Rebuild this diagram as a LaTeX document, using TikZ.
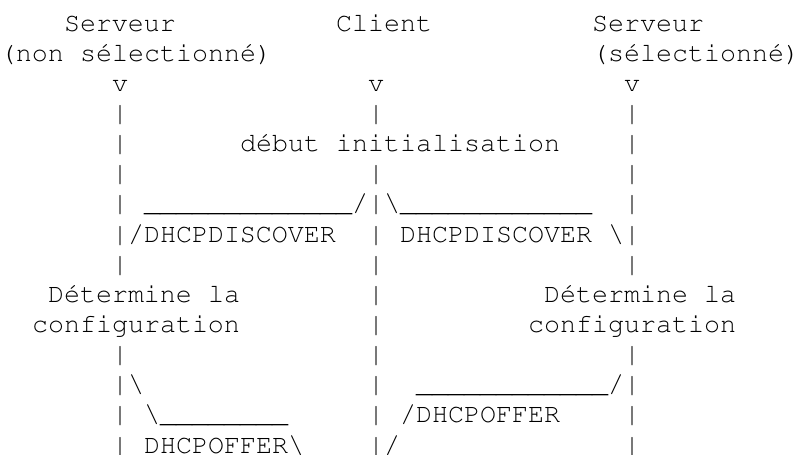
\documentclass[tikz,border=0pt]{standalone}
\usepackage[T1]{fontenc}
\usepackage{courier}
\begin{document}
\begin{tikzpicture}[
  ascii/.style={anchor=base west, inner sep=0pt, outer sep=0pt,
    text=black, font=\fontsize{20pt}{22.6pt}\selectfont\ttfamily}]
% character grid: 12pt per column, 22.61pt per row
\newcommand\cellat[4]{\node[ascii] (#1) at ({#2*12pt},{-23.25pt-#3*22.61pt}) {#4};}
\fill[white] (0,0) rectangle (597.75pt,-340.5pt);
\useasboundingbox (0,0) rectangle (597.75pt,-340.5pt);

% headings
\cellat{srvA}{4}{0}{Serveur}
\cellat{cli}{21}{0}{Client}
\cellat{srvB}{37}{0}{Serveur}
\cellat{nonA}{0}{1}{(non}
\cellat{selA}{5}{1}{s\'electionn\'e)}
\cellat{selB}{37}{1}{(s\'electionn\'e)}

% arrow heads
\cellat{vA}{7}{2}{v}
\cellat{vC}{23}{2}{v}
\cellat{vB}{39}{2}{v}

% row 3
\cellat{pA3}{7}{3}{\textbar}
\cellat{pC3}{23}{3}{\textbar}
\cellat{pB3}{39}{3}{\textbar}

% row 4
\cellat{pA4}{7}{4}{\textbar}
\cellat{deb}{15}{4}{d\'ebut}
\cellat{init}{21}{4}{initialisation}
\cellat{pB4}{39}{4}{\textbar}

% row 5
\cellat{pA5}{7}{5}{\textbar}
\cellat{pC5}{23}{5}{\textbar}
\cellat{pB5}{39}{5}{\textbar}

% row 6: DHCPDISCOVER broadcast
\cellat{pA6}{7}{6}{\textbar}
\cellat{usA6}{9}{6}{\_\_\_\_\_\_\_\_\_\_\_\_\_}
\cellat{fork}{22}{6}{/\textbar\textbackslash}
\cellat{usB6}{25}{6}{\_\_\_\_\_\_\_\_\_\_\_\_}
\cellat{pB6}{39}{6}{\textbar}

% row 7
\cellat{discA}{7}{7}{\textbar/DHCPDISCOVER}
\cellat{pC7}{23}{7}{\textbar}
\cellat{discB}{25}{7}{DHCPDISCOVER}
\cellat{endB7}{38}{7}{\textbackslash\textbar}

% row 8
\cellat{pA8}{7}{8}{\textbar}
\cellat{pC8}{23}{8}{\textbar}
\cellat{pB8}{39}{8}{\textbar}

% rows 9-10: configuration step
\cellat{detA}{3}{9}{D\'etermine}
\cellat{laA}{13}{9}{la}
\cellat{pC9}{23}{9}{\textbar}
\cellat{detB}{34}{9}{D\'etermine}
\cellat{laB}{44}{9}{la}
\cellat{cfgA}{2}{10}{configuration}
\cellat{pC10}{23}{10}{\textbar}
\cellat{cfgB}{33}{10}{configuration}

% row 11
\cellat{pA11}{7}{11}{\textbar}
\cellat{pC11}{23}{11}{\textbar}
\cellat{pB11}{39}{11}{\textbar}

% rows 12-14: DHCPOFFER replies
\cellat{offA12}{7}{12}{\textbar\textbackslash}
\cellat{pC12}{23}{12}{\textbar}
\cellat{usB12}{26}{12}{\_\_\_\_\_\_\_\_\_\_\_\_}
\cellat{offB12}{38}{12}{/\textbar}

\cellat{pA13}{7}{13}{\textbar}
\cellat{offA13}{9}{13}{\textbackslash\_\_\_\_\_\_\_\_}
\cellat{pC13}{23}{13}{\textbar}
\cellat{offB13}{25}{13}{/DHCPOFFER}
\cellat{pB13}{39}{13}{\textbar}

\cellat{pA14}{7}{14}{\textbar}
\cellat{offA14}{9}{14}{DHCPOFFER\textbackslash}
\cellat{pC14}{23}{14}{\textbar/}
\cellat{pB14}{39}{14}{\textbar}
\end{tikzpicture}
\end{document}
